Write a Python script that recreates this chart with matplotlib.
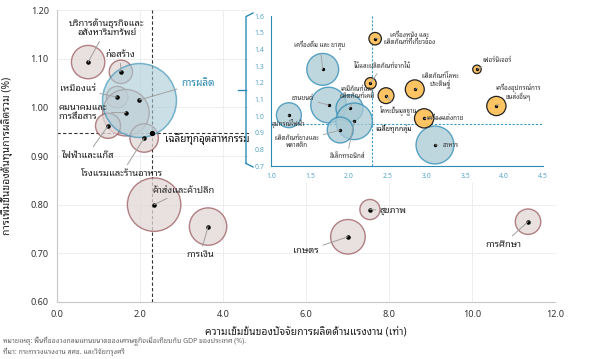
import matplotlib
matplotlib.use("Agg")
import matplotlib.pyplot as plt
from matplotlib.patches import Rectangle
from matplotlib.lines import Line2D

plt.rcParams['font.family'] = ['Noto Sans Thai Looped', 'Noto Sans', 'DejaVu Sans']

## main chart: sectors
sectors = ["บริการด้านธุรกิจและ\nอสังหาริมทรัพย์", "ก่อสร้าง", "เหมืองแร่", "คมนาคมและ\nการสื่อสาร",
           "ไฟฟ้าและแก๊ส", "โรงแรมและร้านอาหาร", "ค้าส่งและค้าปลีก", "การเงิน",
           "เกษตร", "สุขภาพ", "การศึกษา"]
labor_x = [0.75, 1.54, 1.45, 1.66, 1.23, 2.10, 2.34, 3.64, 7.01, 7.54, 11.35]
cost_y = [1.093, 1.073, 1.021, 0.989, 0.962, 0.937, 0.800, 0.755, 0.734, 0.790, 0.765]
gdp_share = [5.5, 2.7, 2.3, 10.7, 3.1, 4.0, 14.1, 6.9, 5.9, 2.0, 3.2]
label_xy = [(1.20, 1.163), (1.52, 1.108), (0.94, 1.038), (0.04, 0.990), (0.73, 0.902),
            (1.57, 0.865), (2.29, 0.829), (3.45, 0.697), (6.31, 0.705), (7.78, 0.787), (10.75, 0.719)]
label_ha = ["center", "center", "right", "left", "center", "center", "left", "center", "right", "left", "center"]

manuf_x, manuf_y, manuf_share = 1.98, 1.015, 27.0
avg_x, avg_y = 2.30, 0.947

## inset: manufacturing sub-sectors
sub_names = ["เครื่องดื่ม และ ยาสูบ", "ยานยนต์", "เคมีภัณฑ์และ\nผลิตภัณฑ์เคมี", "อิเล็กทรอนิกส์",
             "ผลิตภัณฑ์ยางและ\nพลาสติก", "อุปกรณ์ไฟฟ้า", "อาหาร"]
sub_x = [1.665, 1.74, 2.01, 2.07, 1.89, 1.23, 3.11]
sub_y = [1.28, 1.066, 1.046, 0.968, 0.916, 1.005, 0.826]
sub_share = [8.5, 10.6, 6.1, 11.2, 5.6, 5.2, 12.0]
sub_label_xy = [(1.63, 1.426), (1.41, 1.108), (2.11, 1.138), (1.98, 0.760), (1.33, 0.844), (1.22, 0.958), (3.21, 0.826)]
sub_ha = ["center", "center", "center", "center", "center", "center", "left"]

hi_names = ["เครื่องหนัง และ\nผลิตภัณฑ์ที่เกี่ยวข้อง", "ไม้และผลิตภัณฑ์จากไม้", "โลหะขั้นมูลฐาน",
            "ผลิตภัณฑ์โลหะ\nประดิษฐ์", "เฟอร์นิเจอร์", "เครื่องอุปกรณ์การ\nขนส่งอื่นๆ", "เครื่องแต่งกาย"]
hi_x = [2.34, 2.28, 2.48, 2.85, 3.65, 3.90, 2.97]
hi_y = [1.464, 1.196, 1.122, 1.160, 1.280, 1.060, 0.986]
hi_share = [1.3, 1.1, 2.1, 3.0, 0.6, 3.1, 3.1]
hi_label_xy = [(2.78, 1.462), (2.43, 1.300), (2.65, 1.036), (3.18, 1.210), (3.91, 1.336), (4.18, 1.144), (3.00, 0.986)]
hi_ha = ["center", "center", "center", "center", "center", "center", "left"]

sub_avg_x, sub_avg_y = 2.30, 0.95

brown = "#9a5a5e"
blue = "#2b8ab3"
lead = dict(arrowstyle="-", color="#a0a0a0", lw=0.7, shrinkA=1, shrinkB=0)

fig = plt.figure(figsize=(5.95, 3.59), dpi=100)
ax = fig.add_axes([0.0958, 0.1588, 0.8370, 0.8133])

ax.scatter(labor_x, cost_y, s=[105 * g for g in gdp_share], facecolor="#e2d6d6", edgecolor=brown,
           linewidth=1.0, alpha=0.75, zorder=3)
ax.scatter([manuf_x], [manuf_y], s=[105 * manuf_share], facecolor="#a9ccd6", edgecolor=blue,
           linewidth=1.1, alpha=0.6, zorder=3)
ax.scatter(labor_x + [manuf_x], cost_y + [manuf_y], s=5, color="black", zorder=5)
ax.scatter([avg_x], [avg_y], s=8, color="black", zorder=5)

ax.axvline(avg_x, color="#333333", ls=(0, (3, 2)), lw=0.8, zorder=2)
ax.axhline(avg_y, color="#333333", ls=(0, (3, 2)), lw=0.8, zorder=2)

for name, x, y, (tx, ty), ha in zip(sectors, labor_x, cost_y, label_xy, label_ha):
    ax.annotate(name, (x, y), xytext=(tx, ty), ha=ha, va="center", fontsize=6.8, color="#222222",
                arrowprops=lead, zorder=6, linespacing=1.0)
ax.annotate("การผลิต", (manuf_x, manuf_y), xytext=(2.99, 1.05), ha="left", va="center", fontsize=7.2,
            color=blue, fontweight="bold", arrowprops=lead, zorder=6)
ax.annotate("เฉลี่ยทุกอุตสาหกรรม", (avg_x, avg_y), xytext=(2.60, 0.935), ha="left", va="center",
            fontsize=7.2, color="#111111", fontweight="bold", zorder=6)

ax.set_xlim(0, 12)
ax.set_ylim(0.6, 1.2)
ax.set_xticks([0, 2, 4, 6, 8, 10, 12])
ax.set_yticks([0.6, 0.7, 0.8, 0.9, 1.0, 1.1, 1.2])
ax.set_xticklabels(["%.1f" % v for v in [0, 2, 4, 6, 8, 10, 12]])
ax.set_yticklabels(["%.2f" % v for v in [0.6, 0.7, 0.8, 0.9, 1.0, 1.1, 1.2]])
ax.tick_params(length=0, labelsize=6.5, labelcolor="#333333", pad=6)
ax.grid(True, color="#d9d9d9", ls=(0, (1, 1)), lw=0.6)
for side in ["top", "right"]:
    ax.spines[side].set_visible(False)
for side in ["left", "bottom"]:
    ax.spines[side].set_color("#c8c8c8")
ax.set_xlabel("ความเข้มข้นของปัจจัยการผลิตด้านแรงงาน (เท่า)", fontsize=7.5, color="#222222", fontweight="bold")
ax.set_ylabel("การเพิ่มขึ้นของต้นทุนการผลิตรวม (%)", fontsize=7.5, color="#222222")
ax.xaxis.set_label_coords(0.5, -0.085)
ax.yaxis.set_label_coords(-0.088, 0.5)

# white panel behind inset
fig.patches.append(Rectangle((249 / 595, 1 - 183 / 359), 1, 1, transform=fig.transFigure,
                             facecolor="white", edgecolor="none", zorder=1))

# brace
bx = 246 / 595
btop, bbot, bmid = 1 - 13 / 359, 1 - 167 / 359, 1 - 90 / 359
hook = 7 / 595
for xs, ys in [([bx + hook, bx, bx], [btop, btop - 0.01, bbot + 0.01]),
               ([bx, bx + hook], [bbot + 0.01, bbot]),
               ([bx, bx - 8 / 595], [bmid, bmid])]:
    fig.add_artist(Line2D(xs, ys, transform=fig.transFigure, color=blue, lw=1.0, zorder=2))

ins = fig.add_axes([0.4555, 0.5376, 0.4571, 0.4178], zorder=3)
ins.scatter(sub_x, sub_y, s=[62 * g for g in sub_share], facecolor="#a9c9d3", edgecolor=blue,
            linewidth=1.0, alpha=0.75, zorder=3)
ins.scatter(hi_x, hi_y, s=[62 * g for g in hi_share], facecolor="#fec463", edgecolor="#222222",
            linewidth=0.9, zorder=3)
ins.scatter(sub_x + hi_x, sub_y + hi_y, s=2, color="black", zorder=5)
ins.axvline(sub_avg_x, color="#3a9bc5", ls=(0, (2, 1.5)), lw=0.8, zorder=2)
ins.axhline(sub_avg_y, color="#3a9bc5", ls=(0, (2, 1.5)), lw=0.8, zorder=2)

lead_s = dict(arrowstyle="-", color="#a0a0a0", lw=0.6, shrinkA=1, shrinkB=0)
for name, x, y, (tx, ty), ha in zip(sub_names + hi_names, sub_x + hi_x, sub_y + hi_y,
                                   sub_label_xy + hi_label_xy, sub_ha + hi_ha):
    ins.annotate(name, (x, y), xytext=(tx, ty), ha=ha, va="center", fontsize=4.5, color="#333333",
                 arrowprops=lead_s, zorder=6, linespacing=1.0)
ins.text(2.34, 0.922, "เฉลี่ยทุกกลุ่ม", ha="left", va="center", fontsize=5, fontweight="bold",
         color="#111111", zorder=6)

ins.set_xlim(1.0, 4.5)
ins.set_ylim(0.7, 1.6)
ins.set_xticks([1.0, 1.5, 2.0, 2.5, 3.0, 3.5, 4.0, 4.5])
ins.set_yticks([0.7, 0.8, 0.9, 1.0, 1.1, 1.2, 1.3, 1.4, 1.5, 1.6])
ins.tick_params(length=0, labelsize=5, labelcolor="#5aa6c9", pad=5)
ins.spines["top"].set_visible(False)
ins.spines["right"].set_visible(False)
ins.spines["left"].set_color(blue)
ins.spines["bottom"].set_color(blue)
ins.set_facecolor("white")

fig.text(0.005, 1 - 341 / 359, "หมายเหตุ: พื้นที่ของวงกลมแทนขนาดของเศรษฐกิจเมื่อเทียบกับ GDP ของประเทศ (%).",
         fontsize=5, color="#666666", va="center")
fig.text(0.005, 1 - 352 / 359, "ที่มา: กระทรวงแรงงาน สศช. และวิจัยกรุงศรี",
         fontsize=5, color="#666666", va="center")

fig.savefig("out.png", dpi=100)
